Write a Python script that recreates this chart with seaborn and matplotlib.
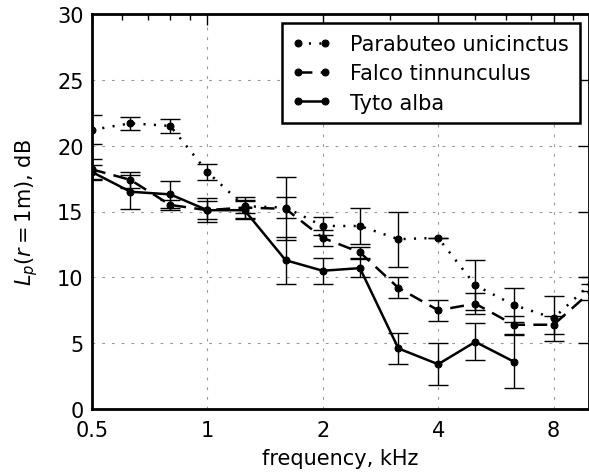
import numpy as np
import pandas as pd
import seaborn as sns
import matplotlib.pyplot as plt
from matplotlib.ticker import FixedLocator, FixedFormatter, LogLocator, NullFormatter

# third-octave band centres, kHz
freq = [0.5, 0.63, 0.8, 1.0, 1.25, 1.6, 2.0, 2.5, 3.15, 4.0, 5.0, 6.3, 8.0, 10.0]

# Parabuteo unicinctus
para = [21.2, 21.7, 21.5, 18.0, 15.4, 15.3, 13.9, 13.9, 12.9, 13.0, 9.4, 7.9, 6.9, 9.5]
para_err = [1.1, 0.5, 0.5, 0.6, 0.5, 0.8, 0.7, 1.4, 2.1, 0.0, 1.9, 1.3, 1.7, 0.5]

# Falco tinnunculus
falco = [18.2, 17.4, 15.5, 15.1, 15.3, 15.2, 13.0, 11.9, 9.2, 7.5, 8.0, 6.4, 6.4, 8.9]
falco_err = [0.8, 0.6, 0.4, 0.7, 0.8, 2.4, 0.6, 0.4, 0.8, 0.8, 0.8, 0.7, 0.7, 0.6]

# Tyto alba (no data above 6.3 kHz)
tyto_freq = freq[:12]
tyto = [18.0, 16.5, 16.3, 15.1, 15.1, 11.3, 10.5, 10.7, 4.6, 3.4, 5.1, 3.6]
tyto_err = [0.5, 1.3, 1.0, 0.9, 0.7, 1.8, 1.0, 0.7, 1.2, 1.6, 1.4, 2.0]

xticks = [0.5, 1, 2, 4, 8]
xticklabels = ['0.5', '1', '2', '4', '8']

sns.set_style('white')
plt.rcParams['font.family'] = ['DejaVu Sans']
plt.rcParams['mathtext.fontset'] = 'dejavusans'
plt.rcParams['font.size'] = 15
plt.rcParams['lines.scale_dashes'] = False
for k in ['text.color', 'axes.labelcolor', 'xtick.color', 'ytick.color']:
    plt.rcParams[k] = 'k'

fig = plt.figure(figsize=(5.89, 4.77), dpi=100)
ax = fig.add_axes([92/589, 67/477, 497/589, 395/477])

series = [
    ('Parabuteo unicinctus', freq, para, para_err, (1.5, 6)),
    ('Falco tinnunculus', freq, falco, falco_err, (10, 6)),
    ('Tyto alba', tyto_freq, tyto, tyto_err, None),
]

for name, f, v, e, dash in series:
    df = pd.DataFrame({'f': f, 'L': v})
    kw = dict(linestyle='-') if dash is None else dict(dashes=dash)
    sns.lineplot(data=df, x='f', y='L', ax=ax, color='k', lw=1.8,
                 marker='o', markersize=5, markeredgecolor='k',
                 label=name, **kw)
    ax.errorbar(f, v, yerr=e, fmt='none', ecolor='k', elinewidth=1,
                capsize=7, capthick=1)

ax.set_xscale('log', base=2)
ax.set_xlim(0.5, 9.9)
ax.set_ylim(0, 30)
ax.xaxis.set_major_locator(FixedLocator(xticks))
ax.xaxis.set_major_formatter(FixedFormatter(xticklabels))
ax.xaxis.set_minor_locator(LogLocator(base=10, subs=np.arange(2, 10)))
ax.xaxis.set_minor_formatter(NullFormatter())
ax.set_yticks(range(0, 31, 5))

ax.tick_params(which='both', direction='in', top=True, right=True,
               labelsize=15, width=1, color='k', labelcolor='k')
ax.tick_params(which='major', length=8, pad=6)
ax.tick_params(axis='x', which='major', pad=8)
ax.tick_params(which='minor', length=4)
for s in ax.spines.values():
    s.set_linewidth(2)
    s.set_color('k')

ax.grid(True, which='major', color='0.6', linestyle=(0, (2, 5)), lw=0.8)
ax.set_xlabel('frequency, kHz', fontsize=15, labelpad=6, color='k')
ax.set_ylabel(r'$L_p(r=1\mathrm{m})$, dB', fontsize=15, labelpad=12, color='k')

leg = ax.legend(loc='upper right', numpoints=2, fancybox=False, framealpha=1,
                edgecolor='k', fontsize=15, labelspacing=0.45,
                handlelength=1.9, handletextpad=0.9, borderpad=0.5,
                borderaxespad=0.45, labelcolor='k')
leg.get_frame().set_linewidth(1.8)

fig.savefig('out.png', dpi=100)
